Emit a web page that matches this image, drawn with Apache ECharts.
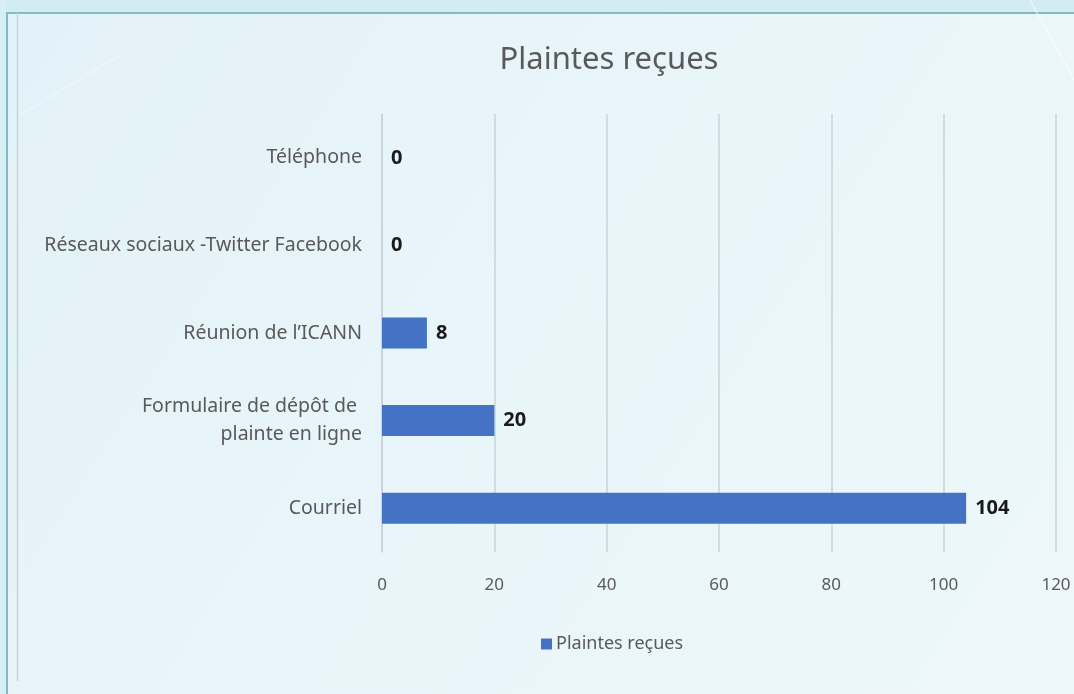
<!DOCTYPE html>
<html>
<head>
<meta charset="utf-8">
<style>
  html, body { margin: 0; padding: 0; }
  #chart { width: 1074px; height: 694px; }
</style>
<script src="https://cdn.jsdelivr.net/npm/echarts@6/dist/echarts.min.js"></script>
</head>
<body>
<div id="chart"></div>
<script>
// données du graphique
const categories = [
  'Téléphone',
  'Réseaux sociaux -Twitter Facebook',
  'Réunion de l’ICANN',
  'Formulaire de dépôt de \nplainte en ligne',
  'Courriel'
]
const values = [0, 0, 8, 20, 104]
const seriesName = 'Plaintes reçues'
const xTicks = [0, 20, 40, 60, 80, 100, 120]

const font = '"Noto Sans", "Open Sans", sans-serif'
const myChart = echarts.init(document.getElementById('chart'))

myChart.setOption({
  backgroundColor: {
    type: 'linear', x: 0, y: 0, x2: 1, y2: 1,
    colorStops: [
      { offset: 0, color: '#e3f2f8' },
      { offset: 1, color: '#eef8fb' }
    ]
  },
  graphic: [
    // bande du haut, hors cadre
    { type: 'rect', shape: { x: 0, y: 0, width: 1074, height: 12 }, style: { fill: '#d3ecf4' }, silent: true },
    { type: 'rect', shape: { x: 0, y: 0, width: 6, height: 694 }, style: { fill: '#d8eef5' }, silent: true },
    // cadre
    { type: 'line', shape: { x1: 6, y1: 13, x2: 1074, y2: 13 }, style: { stroke: '#7fbcc4', lineWidth: 2 }, silent: true },
    { type: 'line', shape: { x1: 7, y1: 13, x2: 7, y2: 694 }, style: { stroke: '#7fbcc4', lineWidth: 2 }, silent: true },
    { type: 'line', shape: { x1: 17.5, y1: 13, x2: 17.5, y2: 681 }, style: { stroke: '#c9d2d5', lineWidth: 1.5 }, silent: true },
    // quelques traits décoratifs du fond
    { type: 'line', shape: { x1: 20, y1: 115, x2: 120, y2: 55 }, style: { stroke: 'rgba(255,255,255,0.5)', lineWidth: 1 }, silent: true },
    { type: 'line', shape: { x1: 1030, y1: 0, x2: 1074, y2: 80 }, style: { stroke: 'rgba(255,255,255,0.6)', lineWidth: 1.5 }, silent: true }
  ],
  title: {
    text: seriesName,
    left: 609,
    top: 45,
    padding: 0,
    textAlign: 'center',
    textStyle: { fontFamily: font, fontSize: 31, fontWeight: 'normal', color: '#595959' }
  },
  legend: {
    data: [seriesName],
    left: 541,
    top: 635,
    padding: 0,
    itemWidth: 11,
    itemHeight: 11,
    itemGap: 4,
    icon: 'rect',
    textStyle: { fontFamily: font, fontSize: 18, color: '#595959', padding: [0, 0, 0, -1] }
  },
  grid: {
    left: 382,
    right: 18,
    top: 114,
    bottom: 142,
    containLabel: false
  },
  xAxis: {
    type: 'value',
    min: xTicks[0],
    max: xTicks[xTicks.length - 1],
    interval: 20,
    axisLine: { show: false },
    axisTick: { show: false },
    splitLine: { lineStyle: { color: '#c9d3d8', width: 1.5 } },
    axisLabel: {
      margin: 25,
      fontFamily: font,
      fontSize: 17,
      color: '#595959'
    }
  },
  yAxis: {
    type: 'category',
    data: categories,
    inverse: true,
    axisLine: { show: true, lineStyle: { color: '#c9d3d8', width: 1.5 } },
    axisTick: { show: false },
    axisLabel: {
      margin: 20,
      fontFamily: font,
      fontSize: 19.5,
      lineHeight: 28,
      color: '#595959'
    }
  },
  series: [{
    name: seriesName,
    type: 'bar',
    data: values,
    barWidth: 31,
    itemStyle: { color: '#4472c4' },
    label: {
      show: true,
      position: 'right',
      distance: 9,
      fontFamily: font,
      fontSize: 20,
      fontWeight: 'bold',
      color: '#1a1a1a'
    },
    animation: false
  }]
})
</script>
</body>
</html>
